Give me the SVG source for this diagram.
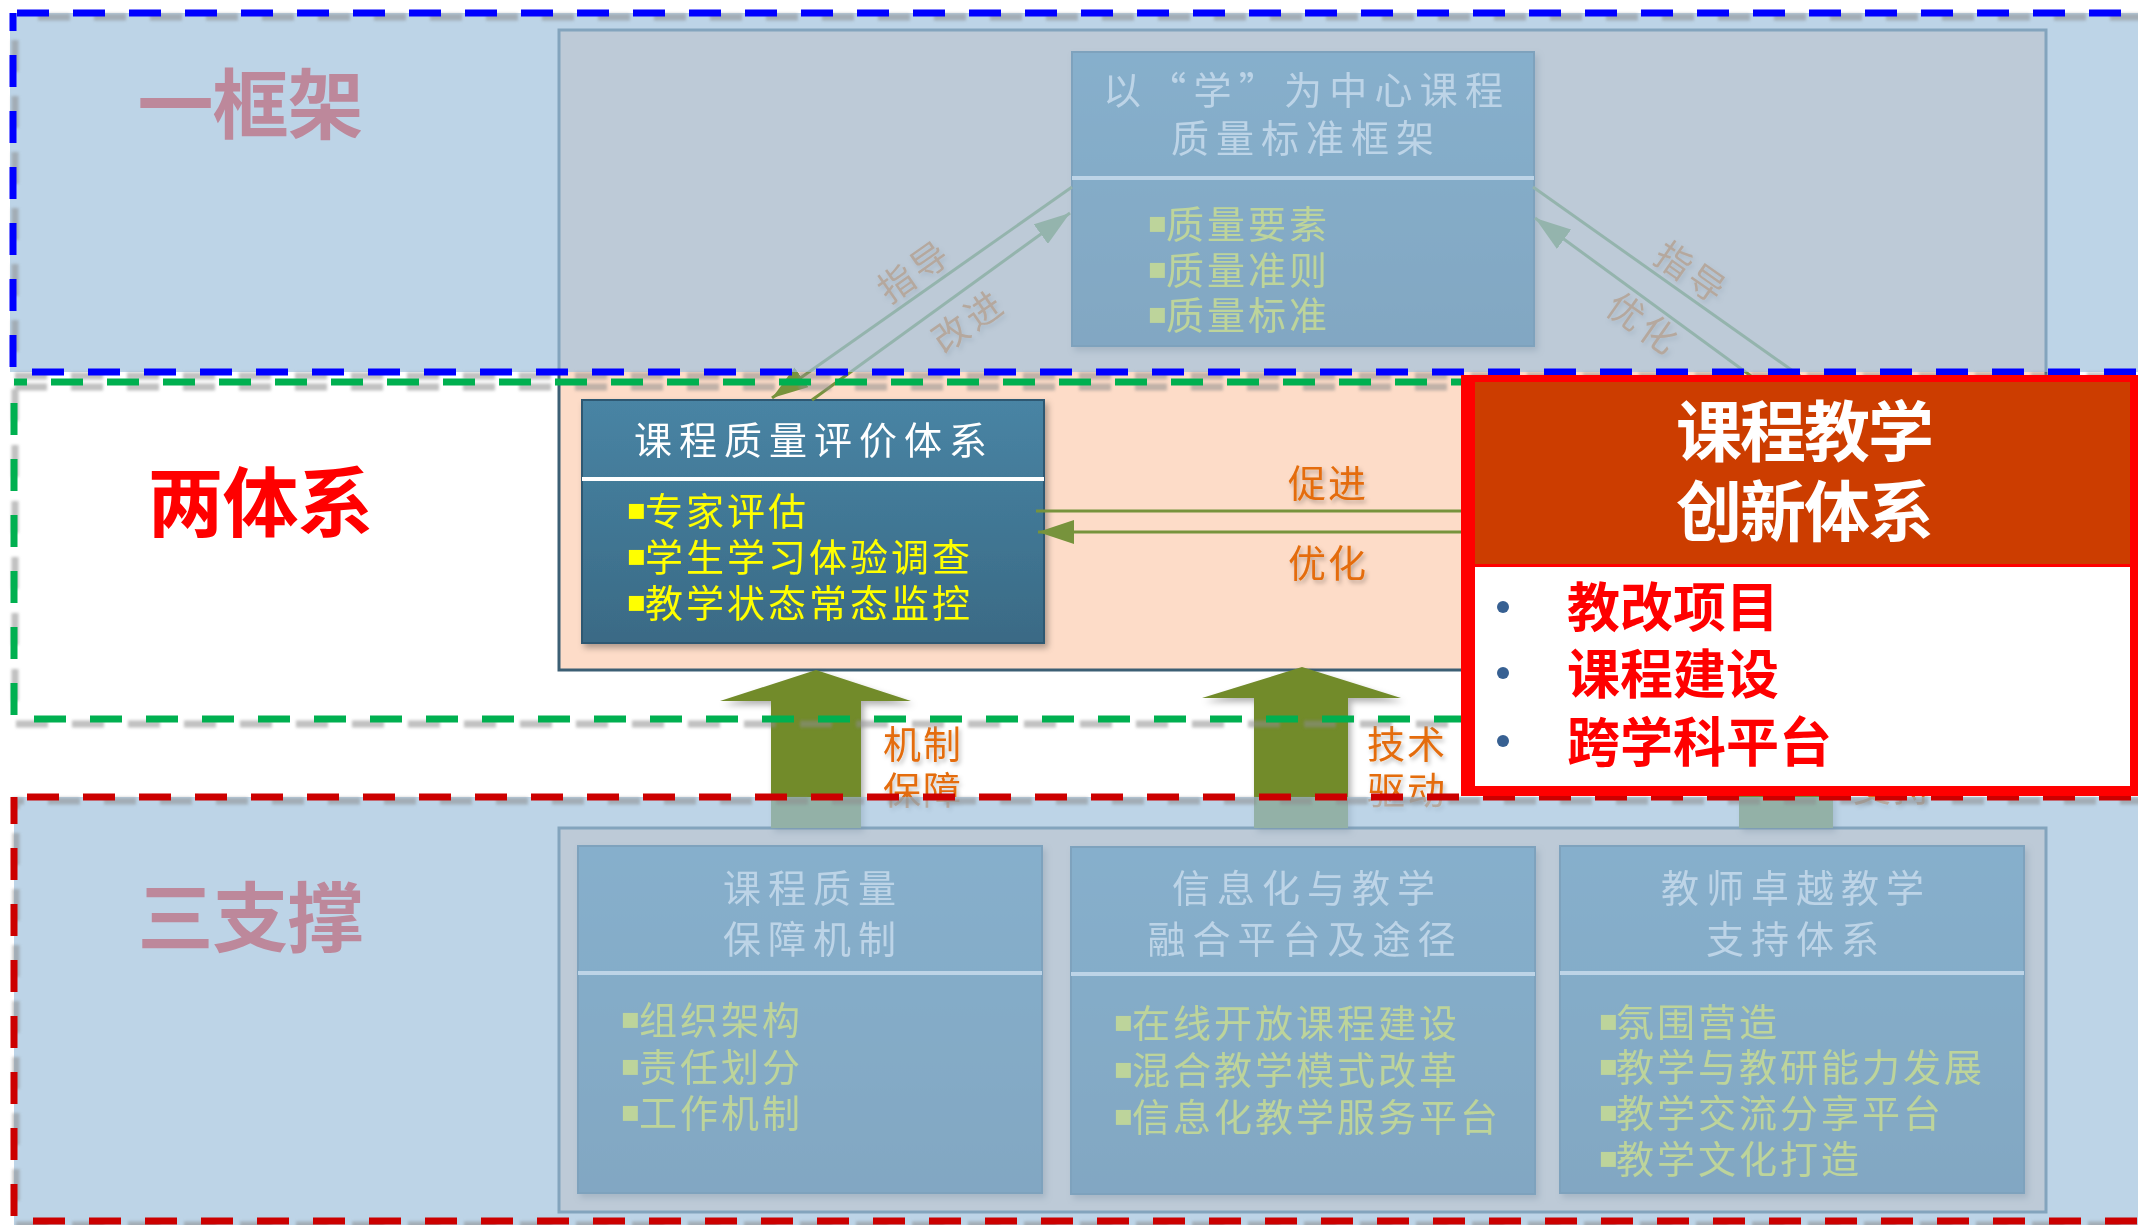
<svg xmlns="http://www.w3.org/2000/svg" width="2138" height="1225" viewBox="0 0 2138 1225" lang="zh-CN">
<defs>
<style>
text{font-family:"Noto Sans CJK SC","Noto Sans",sans-serif}
.big{font-size:76px;font-weight:700;fill:#FF0000;text-anchor:middle;letter-spacing:-1px}
.ttl{font-size:38px;fill:#FFFFFF;text-anchor:middle;letter-spacing:7px}
.bul{font-size:38px;fill:#FFFF00;letter-spacing:3px}
.sq{font-family:"DejaVu Sans",sans-serif;font-size:30px;letter-spacing:0}
.lbl{font-size:38px;fill:#E46C0A;letter-spacing:2px}
.dlbl{font-size:36px;fill:#E46C0A;letter-spacing:4px;text-anchor:middle}
.node{fill:url(#ng);stroke:#2E5872;stroke-width:2}
.div{stroke:#FFFFFF;stroke-width:4}
.frame{fill:#FDDCC8;stroke:#3C5F74;stroke-width:3}
.conn{stroke:#77933C;stroke-width:3;fill:none}
.blk{fill:#728B2C}
.ov{fill:#A1C2DD;opacity:0.7}
.dash{fill:none;stroke-width:7;stroke-dasharray:32 24}
.dsh{fill:none;stroke-width:7;stroke-dasharray:32 24;stroke:#8C8C8C;opacity:0.55}
.hd{font-size:66px;font-weight:700;fill:#FFFFFF;text-anchor:middle;letter-spacing:-2px}
.rb{font-size:53px;font-weight:700;fill:#FF0000}
</style>
<linearGradient id="ng" x1="0" y1="0" x2="0" y2="1">
<stop offset="0" stop-color="#4884A4"/>
<stop offset="1" stop-color="#3A6A85"/>
</linearGradient>
<filter id="sh" x="-10%" y="-10%" width="130%" height="130%">
<feDropShadow dx="3" dy="4" stdDeviation="3" flood-color="#000000" flood-opacity="0.3"/>
</filter>
<filter id="tsh" x="-20%" y="-20%" width="150%" height="160%">
<feDropShadow dx="2" dy="3" stdDeviation="2" flood-color="#000000" flood-opacity="0.25"/>
</filter>
<filter id="bl" x="-5%" y="-5%" width="110%" height="110%">
<feGaussianBlur stdDeviation="1.5"/>
</filter>
<marker id="ah" viewBox="0 0 12 8" refX="12" refY="4" markerWidth="12" markerHeight="8" orient="auto">
<path d="M0,0 L12,4 L0,8 z" fill="#77933C"/>
</marker>
</defs>

<rect x="0" y="0" width="2138" height="1225" fill="#FFFFFF"/>

<!-- frames -->
<g id="frames">
<rect class="frame" x="559" y="30" width="1487" height="640"/>
<rect class="frame" x="559" y="828" width="1487" height="384"/>
</g>

<!-- section labels -->
<g id="section-labels">
<text class="big" x="250" y="133">一框架</text>
<text class="big" x="260" y="531">两体系</text>
<text class="big" x="250" y="946">三支撑</text>
</g>

<!-- framework node -->
<g id="node-framework" filter="url(#sh)">
<rect class="node" x="1072" y="52" width="462" height="294"/>
<line class="div" x1="1072" y1="178" x2="1534" y2="178"/>
<text class="ttl" x="1303" y="104" textLength="400" style="letter-spacing:0">以“学”为中心课程</text>
<text class="ttl" x="1306" y="152">质量标准框架</text>
<text class="bul" x="1147" y="238"><tspan class="sq" dy="-6">▪</tspan><tspan x="1166" dy="6">质量要素</tspan></text>
<text class="bul" x="1147" y="284"><tspan class="sq" dy="-6">▪</tspan><tspan x="1166" dy="6">质量准则</tspan></text>
<text class="bul" x="1147" y="329"><tspan class="sq" dy="-6">▪</tspan><tspan x="1166" dy="6">质量标准</tspan></text>
</g>

<!-- evaluation node -->
<g id="node-eval" filter="url(#sh)">
<rect class="node" x="582" y="400" width="462" height="243"/>
<line class="div" x1="582" y1="479" x2="1044" y2="479"/>
<text class="ttl" x="814" y="454">课程质量评价体系</text>
<text class="bul" x="626" y="525"><tspan class="sq" dy="-6">▪</tspan><tspan x="645" dy="6">专家评估</tspan></text>
<text class="bul" x="626" y="571"><tspan class="sq" dy="-6">▪</tspan><tspan x="645" dy="6">学生学习体验调查</tspan></text>
<text class="bul" x="626" y="617"><tspan class="sq" dy="-6">▪</tspan><tspan x="645" dy="6">教学状态常态监控</tspan></text>
</g>

<!-- bottom nodes -->
<g id="node-guarantee" filter="url(#sh)">
<rect class="node" x="578" y="846" width="464" height="347"/>
<line class="div" x1="578" y1="973" x2="1042" y2="973"/>
<text class="ttl" x="813" y="902">课程质量</text>
<text class="ttl" x="813" y="953">保障机制</text>
<text class="bul" x="620" y="1034"><tspan class="sq" dy="-6">▪</tspan><tspan x="639" dy="6">组织架构</tspan></text>
<text class="bul" x="620" y="1081"><tspan class="sq" dy="-6">▪</tspan><tspan x="639" dy="6">责任划分</tspan></text>
<text class="bul" x="620" y="1127"><tspan class="sq" dy="-6">▪</tspan><tspan x="639" dy="6">工作机制</tspan></text>
</g>
<g id="node-platform" filter="url(#sh)">
<rect class="node" x="1071" y="847" width="464" height="347"/>
<line class="div" x1="1071" y1="974" x2="1535" y2="974"/>
<text class="ttl" x="1307" y="902">信息化与教学</text>
<text class="ttl" x="1305" y="953">融合平台及途径</text>
<text class="bul" x="1113" y="1037"><tspan class="sq" dy="-6">▪</tspan><tspan x="1132" dy="6">在线开放课程建设</tspan></text>
<text class="bul" x="1113" y="1084"><tspan class="sq" dy="-6">▪</tspan><tspan x="1132" dy="6">混合教学模式改革</tspan></text>
<text class="bul" x="1113" y="1131"><tspan class="sq" dy="-6">▪</tspan><tspan x="1132" dy="6">信息化教学服务平台</tspan></text>
</g>
<g id="node-teacher" filter="url(#sh)">
<rect class="node" x="1560" y="846" width="464" height="347"/>
<line class="div" x1="1560" y1="973" x2="2024" y2="973"/>
<text class="ttl" x="1796" y="902">教师卓越教学</text>
<text class="ttl" x="1796" y="953">支持体系</text>
<text class="bul" x="1598" y="1036"><tspan class="sq" dy="-6">▪</tspan><tspan x="1616" dy="6">氛围营造</tspan></text>
<text class="bul" x="1598" y="1081"><tspan class="sq" dy="-6">▪</tspan><tspan x="1616" dy="6">教学与教研能力发展</tspan></text>
<text class="bul" x="1598" y="1127"><tspan class="sq" dy="-6">▪</tspan><tspan x="1616" dy="6">教学交流分享平台</tspan></text>
<text class="bul" x="1598" y="1173"><tspan class="sq" dy="-6">▪</tspan><tspan x="1616" dy="6">教学文化打造</tspan></text>
</g>

<!-- connectors -->
<g id="connectors">
<path class="conn" d="M1072,187 L772,398" marker-end="url(#ah)"/>
<path class="conn" d="M812,400 L1070,213" marker-end="url(#ah)"/>
<path class="conn" d="M1533,187 L1800,376"/>
<path class="conn" d="M1751,376 L1535,218" marker-end="url(#ah)"/>
<path class="conn" d="M1036,511 L1470,511"/>
<path class="conn" d="M1470,532 L1038,532" marker-end="url(#ah)"/>
<g filter="url(#sh)">
<polygon class="blk" points="816,670 911,701 861,701 861,828 771,828 771,701 720,701"/>
<polygon class="blk" points="1302,667 1401,698 1348,698 1348,828 1254,828 1254,698 1202,698"/>
<polygon class="blk" points="1786,667 1885,698 1833,698 1833,828 1739,828 1739,698 1687,698"/>
</g>
<g filter="url(#tsh)">
<text class="dlbl" transform="translate(913,272) rotate(-35)" x="2" y="13">指导</text>
<text class="dlbl" transform="translate(967,322) rotate(-35)" x="2" y="13">改进</text>
<text class="dlbl" transform="translate(1690,272) rotate(35)" x="2" y="13">指导</text>
<text class="dlbl" transform="translate(1642,323) rotate(35)" x="2" y="13">优化</text>
<text class="lbl" x="1288" y="497">促进</text>
<text class="lbl" x="1288" y="577">优化</text>
<text class="lbl" x="883" y="758">机制</text>
<text class="lbl" x="883" y="804">保障</text>
<text class="lbl" x="1367" y="758">技术</text>
<text class="lbl" x="1367" y="804">驱动</text>
<text class="lbl" x="1853" y="801">支持</text>
</g>
</g>

<!-- translucent overlays -->
<rect class="ov" x="10" y="13" width="2128" height="359"/>
<rect class="ov" x="14" y="797" width="2124" height="428"/>

<!-- dashed section borders -->
<g id="section-borders">
<rect class="dsh" x="15" y="17" width="2200" height="359" stroke-dashoffset="33" filter="url(#bl)"/>
<rect class="dash" x="13" y="13" width="2200" height="359" stroke="#0000FF" stroke-dashoffset="52"/>
<rect class="dsh" x="15" y="387" width="2200" height="337" stroke-dashoffset="0" filter="url(#bl)"/>
<rect class="dash" x="14" y="382" width="2200" height="337" stroke="#00B050" stroke-dashoffset="19"/>
<rect class="dsh" x="16" y="801" width="2200" height="424" stroke-dashoffset="24" filter="url(#bl)"/>
<rect class="dash" x="14" y="797" width="2200" height="424" stroke="#CC0000" stroke-dashoffset="43"/>
</g>

<!-- innovation system node -->
<g id="node-innovation">
<rect x="1461" y="375" width="677" height="421" fill="#FF0000"/>
<rect x="1475" y="382" width="655" height="182" fill="#CC3D00"/>
<rect x="1475" y="567" width="655" height="219" fill="#FFFFFF"/>
<text class="hd" x="1804" y="456">课程教学</text>
<text class="hd" x="1804" y="536">创新体系</text>
<circle cx="1503" cy="607" r="6" fill="#376092"/>
<circle cx="1503" cy="673" r="6" fill="#376092"/>
<circle cx="1503" cy="741" r="6" fill="#376092"/>
<text class="rb" x="1567" y="627">教改项目</text>
<text class="rb" x="1567" y="694">课程建设</text>
<text class="rb" x="1567" y="762">跨学科平台</text>
</g>
</svg>
